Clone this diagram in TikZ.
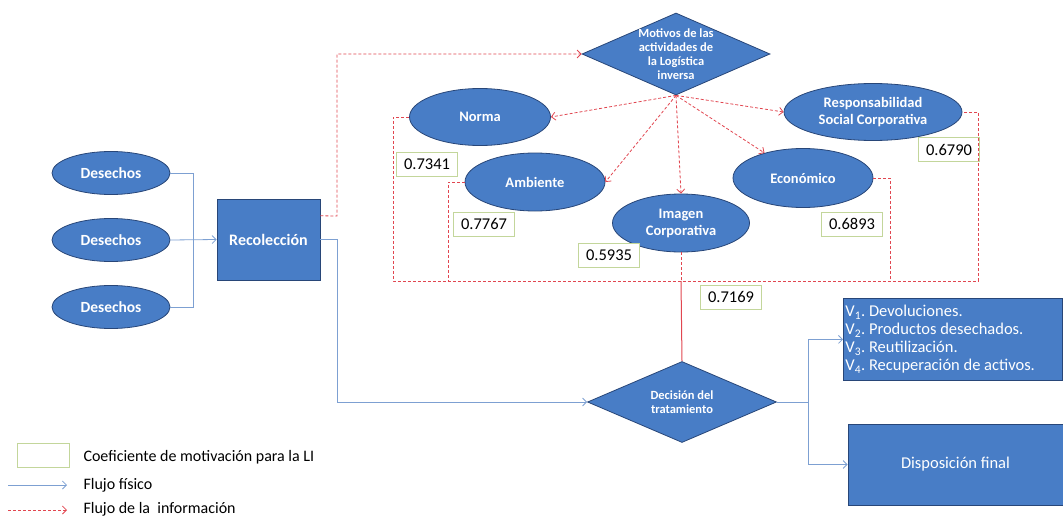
\documentclass[tikz,border=0pt]{standalone}
\usepackage{fontspec}
\setmainfont{Carlito}
\usetikzlibrary{shapes.geometric, positioning, calc, arrows.meta}

\definecolor{boxblue}{RGB}{72,125,198}
\definecolor{edgeblue}{RGB}{40,70,120}
\definecolor{flowblue}{RGB}{125,160,210}
\definecolor{infored}{RGB}{225,70,80}
\definecolor{coefgreen}{RGB}{195,214,155}

\tikzset{
  >={Straight Barb[length=4pt,width=8pt]},
  motivo/.style={ellipse, draw=edgeblue, fill=boxblue, line width=0.8pt, text=white,
    font=\bfseries\fontsize{14.5}{17}\selectfont, align=center, inner sep=1pt},
  caja/.style={rectangle, draw=edgeblue, fill=boxblue, line width=0.8pt, text=white,
    font=\fontsize{16.5}{18}\selectfont},
  rombo/.style={diamond, draw=edgeblue, fill=boxblue, line width=0.8pt, inner sep=0pt},
  rombotexto/.style={text=white, font=\bfseries\fontsize{12.5}{14}\selectfont, align=center, inner sep=0pt},
  coef/.style={rectangle, draw=coefgreen, fill=white, line width=0.8pt,
    minimum width=61, minimum height=24, font=\fontsize{16.5}{18}\selectfont},
  leyenda/.style={anchor=west, font=\fontsize{16}{18}\selectfont},
  fisico/.style={draw=flowblue, line width=0.8pt},
  info/.style={draw=infored, line width=0.8pt, dash pattern=on 3pt off 2pt},
}

\begin{document}
\frenchspacing
\begin{tikzpicture}[x=1pt, y=-1pt]
  \useasboundingbox (0,0) rectangle (1063,519);

  % entradas
  \node[motivo, minimum width=118, minimum height=43, font=\bfseries\fontsize{15.5}{17}\selectfont] (des1) at (111,173) {Desechos};
  \node[motivo, minimum width=118, minimum height=43, font=\bfseries\fontsize{15.5}{17}\selectfont] (des2) at (111,240) {Desechos};
  \node[motivo, minimum width=118, minimum height=43, font=\bfseries\fontsize{15.5}{17}\selectfont] (des3) at (111,307) {Desechos};
  \node[caja, minimum width=103, minimum height=81, font=\bfseries\fontsize{16}{18}\selectfont] (recol) at (268.5,239.5) {Recolección};

  % motivos
  \node[rombo, minimum width=188, minimum height=82] (motivos) at (676,54) {};
  \node[rombotexto] (motivos-txt) at (motivos) {Motivos de las\\actividades de\\la Logística\\inversa};
  \node[motivo, minimum width=141, minimum height=57] (norma) at (480,117) {Norma};
  \node[motivo, minimum width=140, minimum height=58] (ambiente) at (535,182) {Ambiente};
  \node[motivo, minimum width=137, minimum height=58] (imagen) at (681,223) {Imagen\\Corporativa};
  \node[motivo, minimum width=140, minimum height=59] (economico) at (803,178) {Económico};
  \node[motivo, minimum width=178, minimum height=57] (respons) at (873,112) {Responsabilidad\\Social Corporativa};

  % coeficientes
  \node[coef] (c-norma) at (427,164.5) {0.7341};
  \node[coef] (c-amb) at (484,224) {0.7767};
  \node[coef] (c-img) at (609,255.5) {0.5935};
  \node[coef] (c-resp) at (949,149.5) {0.6790};
  \node[coef] (c-eco) at (852,224) {0.6893};
  \node[coef] (c-total) at (731,297) {0.7169};

  % tratamiento
  \node[rombo, minimum width=189, minimum height=81] (decision) at (682,402) {};
  \node[rombotexto] (decision-txt) at (decision) {Decisión del\\tratamiento};
  \node[caja, anchor=north west, minimum height=82, text width=215, inner xsep=2pt, align=flush left]
    (valor) at (843,298) {V\textsubscript{1}. Devoluciones.\\V\textsubscript{2}. Productos desechados.\\V\textsubscript{3}. Reutilización.\\V\textsubscript{4}. Recuperación de activos.};
  \node[caja, minimum width=215, minimum height=81] (dispo) at (955.5,464.5) {Disposición final};

  % flujo fisico
  \coordinate (junta) at (193,240);
  \coordinate (bajada) at (337,402);
  \coordinate (rama) at (808,402);
  \draw[fisico] (des1.east) -| (junta);
  \draw[fisico] (des3.east) -| (junta);
  \draw[fisico, ->] (des2.east) -- (recol.west);
  \draw[fisico, ->] (recol.east) -| (bajada) -- (decision.west);
  \draw[fisico, ->] (decision.east) -- (rama) |- (valor.west);
  \draw[fisico, ->] (rama) |- (dispo.west);

  % flujo de la informacion
  \coordinate (info-sube) at (337,216);
  \draw[info, ->] ($(recol.north east)!0.21!(recol.south east)$) -- (info-sube) |- (motivos.west);
  \draw[info, ->] (motivos.south) -- (norma.east);
  \draw[info, ->] (motivos.south) -- (ambiente.east);
  \draw[info, ->] (motivos.south) -- (imagen.north);
  \draw[info, ->] (motivos.south) -- (economico);
  \draw[info, ->] (motivos.south) -- (respons.west);

  \coordinate (ret-norma) at (393,281);
  \coordinate (ret-amb) at (448,281);
  \coordinate (ret-img) at (681,281);
  \coordinate (ret-eco) at (890,281);
  \coordinate (ret-resp) at (978,281);
  \draw[info] (norma.west) -| (ret-norma) -- (ret-resp) |- (respons.east);
  \draw[info] (ambiente.west) -| (ret-amb);
  \draw[info] (economico.east) -| (ret-eco);
  \draw[info] (imagen.south) -- (ret-img);
  \draw[draw=infored, line width=1pt] (ret-img) -- (decision.north);

  % leyenda
  \node[coef, minimum width=52, minimum height=24] (ley-coef) at (43,455) {};
  \node[leyenda] (ley-coef-txt) at (80,457) {Coeficiente de motivación para la LI};
  \coordinate (ley-f1) at (8,485);
  \coordinate (ley-f2) at (67,485);
  \draw[fisico, ->] (ley-f1) -- (ley-f2);
  \node[leyenda] (ley-f-txt) at (80,485) {Flujo físico};
  \coordinate (ley-i1) at (8,510);
  \coordinate (ley-i2) at (67,510);
  \draw[info, ->] (ley-i1) -- (ley-i2);
  \node[leyenda] (ley-i-txt) at (80,509) {Flujo de la\ \ información};
\end{tikzpicture}
\end{document}
